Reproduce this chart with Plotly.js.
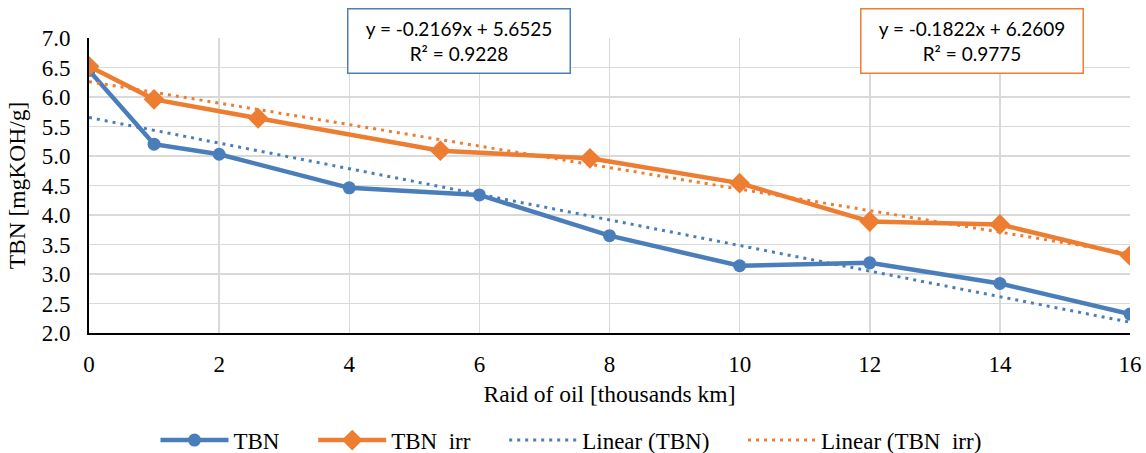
<!DOCTYPE html>
<html>
<head>
<meta charset="utf-8">
<script src="https://cdn.plot.ly/plotly-3.0.1.min.js"></script>
<style>html,body{margin:0;padding:0;background:#fff;}#chart{width:1146px;height:453px;}</style>
</head>
<body>
<div id="chart"></div>
<script>
// Data
const tbnX = [0, 1, 2, 4, 6, 8, 10, 12, 14, 16];
const tbnY = [6.45, 5.20, 5.03, 4.46, 4.34, 3.65, 3.14, 3.19, 2.84, 2.32];
const irrX = [0, 1, 2.6, 5.4, 7.7, 10, 12, 14, 16];
const irrY = [6.52, 5.96, 5.64, 5.09, 4.96, 4.54, 3.89, 3.84, 3.31];
// Trendline coefficients as printed on the chart
const tbnTrend = {slope: -0.2169, intercept: 5.6525, r2: 0.9228};
const irrTrend = {slope: -0.1822, intercept: 6.2609, r2: 0.9775};
const trendX = [0, 16];
const seriesNames = ["TBN", "TBN\u00a0 irr", "Linear (TBN)", "Linear (TBN\u00a0 irr)"];
const xTitle = "Raid of oil [thousands km]";
const yTitle = "TBN [mgKOH/g]";

const BLUE = "#4a7ebb";
const ORANGE = "#ed7d31";
const SERIF = "'Liberation Serif', 'Times New Roman', serif";
const SANS = "Lato, 'Liberation Sans', sans-serif";
const PAD = "\u00a0\u00a0\u00a0\u00a0\u00a0";

function line(t, xs) { return xs.map(x => t.slope * x + t.intercept); }
function eqText(t) {
  return "y = " + t.slope.toFixed(4) + "x + " + t.intercept.toFixed(4) + "<br>R² = " + t.r2.toFixed(4);
}

const traces = [
  {x: tbnX, y: tbnY, name: seriesNames[0] + PAD, type: "scatter", mode: "lines+markers",
   line: {color: BLUE, width: 4.5}, marker: {color: BLUE, size: 13, symbol: "circle"}},
  {x: irrX, y: irrY, name: seriesNames[1] + PAD, type: "scatter", mode: "lines+markers",
   line: {color: ORANGE, width: 4.5}, marker: {color: ORANGE, size: 16, symbol: "diamond"}},
  {x: trendX, y: line(tbnTrend, trendX), name: seriesNames[2] + PAD, type: "scatter", mode: "lines",
   line: {color: BLUE, width: 3, dash: "3px,5px"}},
  {x: trendX, y: line(irrTrend, trendX), name: seriesNames[3], type: "scatter", mode: "lines",
   line: {color: ORANGE, width: 3, dash: "3px,5px"}}
];

const layout = {
  width: 1146, height: 453,
  margin: {l: 89, r: 16, t: 38, b: 120, autoexpand: false},
  paper_bgcolor: "#fff", plot_bgcolor: "#fff",
  font: {family: SERIF, size: 23, color: "#000"},
  showlegend: true,
  legend: {orientation: "h", x: 0.463, xanchor: "center", y: -0.363, yanchor: "middle",
           font: {family: SERIF, size: 23, color: "#000"}, itemwidth: 68, traceorder: "normal"},
  xaxis: {range: [0, 16], dtick: 2, tick0: 0, showgrid: true, gridcolor: "#d9d9d9", gridwidth: 1.5,
          showline: true, linecolor: "#000", linewidth: 2, zeroline: false,
          ticks: "outside", ticklen: 9, tickcolor: "rgba(0,0,0,0)",
          tickfont: {family: SERIF, size: 23, color: "#000"},
          title: {text: xTitle, font: {family: SERIF, size: 23.5, color: "#000"}, standoff: 10}},
  yaxis: {range: [2, 7], dtick: 0.5, tick0: 2, tickformat: ".1f", showgrid: true, gridcolor: "#d9d9d9", gridwidth: 1.5,
          showline: true, linecolor: "#000", linewidth: 2, zeroline: false,
          ticks: "outside", ticklen: 12, tickcolor: "rgba(0,0,0,0)",
          tickfont: {family: SERIF, size: 23, color: "#000"},
          title: {text: yTitle, font: {family: SERIF, size: 23.5, color: "#000"}, standoff: 9}},
  annotations: [
    {xref: "paper", yref: "paper", x: 0.355, y: 0.9915, xanchor: "center", yanchor: "middle",
     text: eqText(tbnTrend), showarrow: false, align: "center",
     font: {family: SANS, size: 19, color: "#000"},
     bgcolor: "#fff", bordercolor: BLUE, borderwidth: 1.5, borderpad: 3, width: 215, height: 57},
    {xref: "paper", yref: "paper", x: 0.8487, y: 0.9915, xanchor: "center", yanchor: "middle",
     text: eqText(irrTrend), showarrow: false, align: "center",
     font: {family: SANS, size: 19, color: "#000"},
     bgcolor: "#fff", bordercolor: ORANGE, borderwidth: 1.5, borderpad: 3, width: 215, height: 57}
  ]
};

Plotly.newPlot("chart", traces, layout, {displayModeBar: false, staticPlot: true});
</script>
</body>
</html>
